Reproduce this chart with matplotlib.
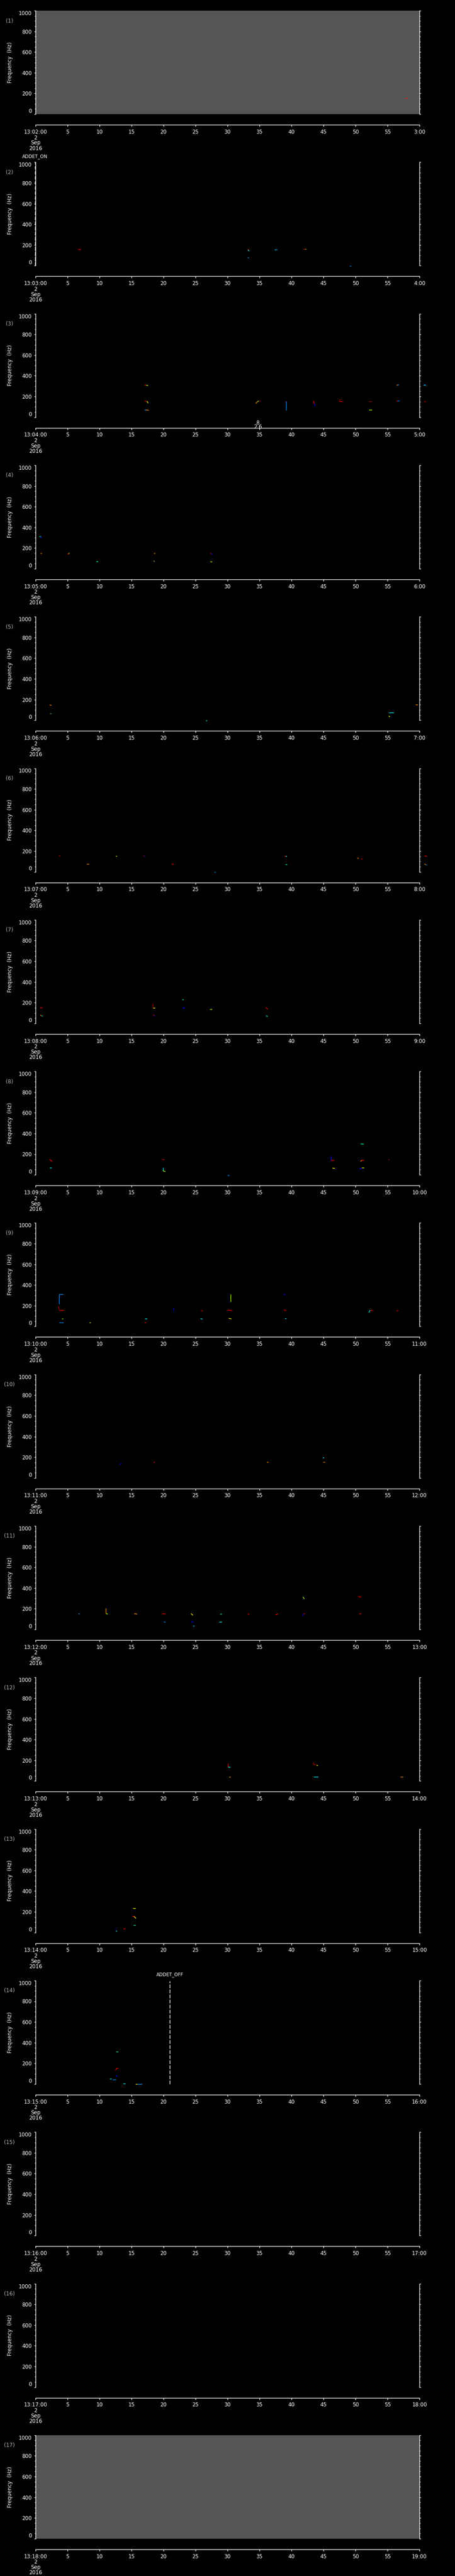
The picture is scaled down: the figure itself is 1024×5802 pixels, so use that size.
import matplotlib
matplotlib.use('Agg')
import matplotlib.pyplot as plt

W, H = 1024, 5802

# colour table shorthands (rainbow)
DR, R, O, Y = '#b00000', '#ff0000', '#ff8c00', '#ffff00'
LG, G, C, B, DB = '#a0ff00', '#00ffa0', '#00ffff', '#0090ff', '#0000ff'

# one panel per minute, 13:02 ... 13:18 on 2 Sep 2016
start_minutes = list(range(2, 19))
gray_panels = [1, 17]

# traces: (t0 [s], t1 [s], f0 [Hz], f1 [Hz], colour)
tracks_01 = [(57.8, 58.1, 156, 156, R)]
tracks_02 = [(6.5, 7.0, 158, 158, DR), (6.9, 7.1, 155, 152, R),
             (33.1, 33.3, 154, 154, R), (33.2, 33.4, 152, 141, C),
             (33.15, 33.3, 77, 77, B),
             (37.4, 37.6, 150, 154, C), (37.6, 37.8, 154, 154, B),
             (41.9, 42.1, 156, 160, DR), (42.1, 42.3, 160, 160, O),
             (49.1, 49.3, -2, -2, B)]
tracks_03 = [(17.0, 17.3, 313, 313, R), (17.3, 17.6, 310, 305, LG),
             (17.0, 17.3, 158, 158, R), (17.4, 17.6, 155, 135, Y),
             (17.0, 17.3, 72, 72, B), (17.3, 17.7, 70, 66, O),
             (34.4, 34.7, 132, 150, O), (34.7, 34.9, 150, 158, LG), (34.9, 35.1, 158, 158, R),
             (39.0, 39.2, 154, 154, R), (39.2, 39.2, 154, 66, B),
             (43.3, 43.5, 154, 154, R), (43.5, 43.5, 154, 130, R), (43.6, 43.6, 130, 110, DB),
             (47.5, 47.5, 175, 154, DR), (47.5, 48.0, 154, 154, R),
             (52.1, 52.6, 154, 154, DR),
             (52.1, 52.6, 72, 72, LG),
             (56.4, 56.6, 313, 313, O), (56.6, 56.8, 313, 310, B),
             (56.4, 56.6, 155, 155, R), (56.6, 56.9, 155, 158, B),
             (60.6, 61.0, 313, 313, C), (60.8, 61.0, 313, 307, B),
             (60.7, 61.0, 154, 154, R)]
tracks_04 = [(0.55, 0.8, 312, 312, G), (0.8, 1.0, 310, 295, DB),
             (0.77, 1.0, 150, 150, O),
             (5.0, 5.15, 138, 145, R), (5.15, 5.3, 145, 151, LG),
             (9.5, 9.8, 69, 67, G),
             (18.5, 18.7, 150, 150, O),
             (18.45, 18.6, 77, 70, O), (18.55, 18.65, 70, 65, B),
             (27.3, 27.45, 150, 150, R), (27.45, 27.6, 150, 138, DB),
             (27.3, 27.6, 69, 69, Y)]
tracks_05 = [(2.2, 2.5, 147, 144, O),
             (2.2, 2.35, 67, 67, O), (2.35, 2.5, 67, 67, B),
             (26.6, 26.8, -5, -5, C),
             (55.2, 56.0, 73, 73, C),
             (55.2, 55.4, 41, 32, Y),
             (59.4, 59.7, 149, 149, O)]
tracks_06 = [(3.6, 3.9, 158, 158, DR),
             (8.0, 8.3, 73, 73, O),
             (12.5, 12.7, 153, 153, LG),
             (16.9, 17.0, 155, 150, R), (17.0, 17.1, 150, 144, DB),
             (21.3, 21.6, 75, 71, R),
             (27.9, 28.1, 0, 0, B),
             (38.9, 39.1, 153, 153, R), (39.1, 39.3, 150, 149, C),
             (39.0, 39.3, 69, 69, G),
             (50.3, 50.5, 134, 127, O),
             (50.8, 51.1, 125, 125, R),
             (60.8, 61.2, 153, 149, R),
             (60.8, 61.0, 76, 67, O), (61.0, 61.2, 67, 67, B)]
tracks_07 = [(0.7, 1.1, 153, 148, R),
             (0.75, 0.9, 80, 72, O), (0.9, 1.1, 71, 71, C),
             (18.3, 18.3, 193, 148, DR), (18.3, 18.7, 148, 148, Y),
             (18.4, 18.55, 82, 75, R), (18.55, 18.7, 72, 67, DB),
             (22.9, 23.1, 230, 230, G),
             (22.9, 23.3, 148, 148, DB),
             (27.2, 27.6, 136, 136, LG),
             (36.0, 36.3, 153, 136, R),
             (36.0, 36.3, 71, 67, C)]
tracks_08 = [(2.2, 2.6, 151, 127, R),
             (2.25, 2.5, 67, 67, C),
             (19.7, 20.2, 150, 146, DR),
             (19.9, 19.9, 67, 40, C), (19.9, 20.3, 40, 30, LG),
             (30.0, 30.3, -2, -2, B),
             (46.2, 46.2, 179, 144, DB), (46.2, 46.7, 144, 144, R),
             (46.4, 46.8, 65, 62, Y),
             (50.8, 51.3, 300, 295, G),
             (50.8, 51.0, 127, 144, O), (51.0, 51.3, 144, 144, R),
             (50.6, 51.0, 56, 62, DB), (51.0, 51.3, 67, 67, Y),
             (55.2, 55.3, 150, 144, R)]
tracks_09 = [(3.7, 3.7, 218, 311, B), (3.7, 4.3, 311, 311, B),
             (3.6, 3.7, 194, 158, DR), (3.7, 4.4, 158, 158, R),
             (4.1, 4.3, 76, 76, LG),
             (3.7, 4.4, 35, 35, B),
             (8.4, 8.6, 35, 35, Y),
             (17.1, 17.4, 76, 76, C),
             (17.0, 17.3, 35, 35, R),
             (21.5, 21.5, 177, 153, DB),
             (25.8, 26.1, 153, 153, R),
             (25.8, 26.1, 74, 71, C),
             (30.0, 30.7, 158, 153, R),
             (30.5, 30.5, 311, 237, LG),
             (30.2, 30.6, 78, 72, Y),
             (38.8, 39.1, 311, 305, DB),
             (38.8, 39.2, 158, 153, R),
             (39.0, 39.2, 78, 71, C),
             (52.1, 52.3, 134, 158, C), (52.3, 52.7, 158, 158, R),
             (56.4, 56.7, 153, 153, R)]
tracks_10 = [(13.1, 13.4, 130, 137, DB),
             (18.4, 18.6, 153, 153, R),
             (36.1, 36.4, 153, 153, O),
             (44.9, 45.1, 196, 192, C),
             (44.9, 45.2, 153, 153, O)]
tracks_11 = [(6.7, 6.9, 153, 148, B),
             (11.0, 11.0, 206, 153, O), (11.0, 11.3, 153, 148, LG),
             (15.4, 15.9, 153, 148, O),
             (19.8, 20.3, 153, 148, R),
             (20.0, 20.3, 73, 73, B),
             (24.3, 24.6, 153, 137, Y),
             (24.3, 24.7, 77, 69, DB),
             (24.6, 24.8, 34, 34, C),
             (28.8, 29.1, 150, 150, G),
             (28.7, 29.1, 73, 73, C),
             (33.1, 33.4, 150, 150, R),
             (37.5, 37.9, 139, 152, R),
             (41.7, 41.9, 133, 150, DB), (41.9, 42.1, 153, 153, R),
             (41.8, 42.0, 315, 294, LG),
             (50.4, 50.9, 320, 311, R),
             (50.6, 50.9, 153, 150, R)]
tracks_12 = [(30.1, 30.1, 170, 136, R), (30.1, 30.4, 136, 136, C),
             (30.2, 30.5, 39, 39, O),
             (43.4, 43.4, 183, 158, DR), (43.4, 43.9, 158, 158, DR), (43.9, 44.1, 153, 153, Y),
             (43.5, 44.2, 39, 39, C),
             (57.0, 57.4, 39, 39, O)]
tracks_13 = [(15.2, 15.6, 235, 235, Y),
             (15.1, 15.4, 155, 155, R), (15.4, 15.7, 155, 136, Y),
             (15.3, 15.6, 73, 73, G),
             (12.4, 12.6, 39, 39, DB),
             (13.7, 14.0, 39, 39, R),
             (12.5, 12.7, 17, 17, C)]
tracks_14 = [(12.6, 12.9, 313, 313, G),
             (12.5, 12.7, 133, 155, R), (12.7, 12.9, 155, 155, R),
             (12.6, 12.8, 86, 69, DB),
             (11.6, 11.9, 52, 52, C),
             (12.0, 12.6, 43, 43, B),
             (13.7, 14.0, 4, 4, C),
             (15.6, 15.9, 0, 0, Y), (15.9, 16.7, 0, 0, B)]
tracks_15 = []
tracks_16 = []
tracks_17 = []

tracks = [tracks_01, tracks_02, tracks_03, tracks_04, tracks_05, tracks_06,
          tracks_07, tracks_08, tracks_09, tracks_10, tracks_11, tracks_12,
          tracks_13, tracks_14, tracks_15, tracks_16, tracks_17]

# events: (panel, second, name)
events = [(2, -0.1, 'ADDET_ON'), (14, 21.0, 'ADDET_OFF')]
# small annotation under panel 3
notes = [(3, 34.75, '8', '2.6')]

xticks = list(range(0, 61, 5))
yticks = list(range(0, 1001, 200))

fig = plt.figure(figsize=(W / 100, H / 100), dpi=100, facecolor='black')
fs = 8.5

for i, m in enumerate(start_minutes):
    k = i + 1
    top = 24 + i * 341.3
    ax = fig.add_axes([80 / W, 1 - (top + 233) / H, 864 / W, 233 / H])
    ax.set_facecolor('#555555' if k in gray_panels else 'black')
    ax.set_xlim(0, 60)
    ax.set_ylim(0, 1000)

    for t0, t1, f0, f1, col in tracks[i]:
        ax.plot([t0, t1], [f0, f1], color=col, lw=1.0, clip_on=False,
                solid_capstyle='butt')

    ax.spines['top'].set_visible(False)
    ax.spines['bottom'].set_position(('outward', 17.3))
    for s in ['left', 'right', 'bottom']:
        ax.spines[s].set_color('white')
        ax.spines[s].set_linewidth(1.0)

    xlabels = [f'13:{m:02d}:00'] + [str(x) for x in xticks[1:-1]] + [f'{m + 1}:00']
    ax.set_xticks(xticks, labels=xlabels)
    ax.set_yticks(yticks, labels=[str(y) for y in yticks])
    ax.set_yticks(range(0, 1001, 50), minor=True)
    ax.tick_params(axis='x', colors='white', direction='out', length=3,
                   width=1, pad=4, labelsize=fs)
    ax.tick_params(axis='y', which='major', colors='white', direction='out',
                   length=2.5, width=1, pad=3.5, labelsize=fs, right=True)
    ax.tick_params(axis='y', which='minor', colors='white', direction='out',
                   length=1.5, width=1, right=True)
    ylab = ax.get_yticklabels()
    ylab[0].set_va('bottom')
    ylab[-1].set_va('top')

    # date lines under the first tick
    for j, s in enumerate(['2', 'Sep', '2016']):
        fig.text(80 / W, 1 - (top + 286 + 12 * j) / H, s, color='white',
                 fontsize=fs, ha='center', va='center')

    fig.text(23 / W, 1 - (top + 116.5) / H, 'Frequency  (Hz)', color='white',
             fontsize=fs, rotation=90, ha='center', va='center')
    fig.text(21 / W, 1 - (top + 23) / H, f'({k})', color='#b4b4b4',
             fontsize=fs, ha='center', va='center')

    for p, t, name in events:
        if p == k:
            ax.plot([t, t], [0, 995], color='white', lw=1.0,
                    ls=(0, (6, 2.2)), clip_on=False)
            ax.text(t, 1000 + 17 * 1000 / 233 - 40, name, color='white',
                    fontsize=7.5, ha='center', va='bottom', clip_on=False)

    for p, t, a, b in notes:
        if p == k:
            ax.text(t, -7 / 233 * 1000 - 25, a, color='white', fontsize=fs,
                    ha='center', va='center', clip_on=False)
            ax.text(t, -16 / 233 * 1000 - 25, b, color='white', fontsize=fs,
                    ha='center', va='center', clip_on=False)

fig.savefig('out.png', dpi=100, facecolor='black')
